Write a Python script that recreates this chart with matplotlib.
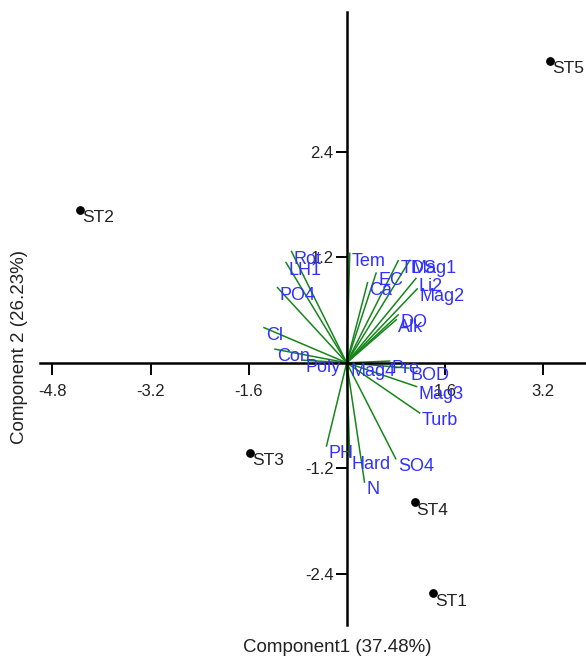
import matplotlib
matplotlib.use("Agg")
import matplotlib.pyplot as plt

# Variable loadings (biplot vectors)
var_names = ["Rot", "LH1", "PO4", "Cl", "Con", "Poly", "Mag4", "Pre", "BOD", "Mag3",
             "Turb", "PH", "Hard", "SO4", "N", "Tem", "TDS", "Mag1", "EC", "Ca",
             "Li2", "Mag2", "DO", "Alk"]
var_x = [-0.90, -0.99, -1.13, -1.35, -1.17, -0.71, 0.02, 0.70, 1.01, 1.14,
         1.19, -0.33, 0.05, 0.80, 0.29, 0.05, 0.84, 1.03, 0.48, 0.34,
         1.13, 1.15, 0.84, 0.81]
var_y = [1.265, 1.14, 0.855, 0.40, 0.155, 0.03, -0.01, 0.02, -0.06, -0.27,
         -0.57, -0.945, -1.07, -1.09, -1.355, 1.245, 1.16, 1.165, 1.02, 0.91,
         0.96, 0.84, 0.545, 0.49]

# Station scores
st_names = ["ST1", "ST2", "ST3", "ST4", "ST5"]
st_x = [1.406, -4.35, -1.57, 1.107, 3.32]
st_y = [-2.62, 1.74, -1.02, -1.58, 3.435]

xticks = [-4.8, -3.2, -1.6, 1.6, 3.2]
yticks = [-2.4, -1.2, 1.2, 2.4]
xlabel = "Component1 (37.48%)"
ylabel = "Component 2 (26.23%)"

plt.rcParams['font.family'] = ['Liberation Sans', 'DejaVu Sans']

fig = plt.figure(figsize=(5.86, 6.62), dpi=100)
ax = fig.add_axes([0, 0, 1, 1])
ax.set_xlim(-5.656, 3.904)
ax.set_ylim(-3.40, 4.123)

green = "#16861a"
blue = "#3030ff"

for n, x, y in zip(var_names, var_x, var_y):
    ax.plot([0, x], [0, y], color=green, lw=1.1, zorder=2)
    ax.annotate(n, (x, y), xytext=(1.5, 0.5), textcoords="offset points",
                ha="left", va="top", color=blue, fontsize=13, zorder=4)

ax.scatter(st_x, st_y, s=28, color="black", zorder=5)
for n, x, y in zip(st_names, st_x, st_y):
    ax.annotate(n, (x, y), xytext=(1.5, -0.5), textcoords="offset points",
                ha="left", va="top", color="#222222", fontsize=12.5, zorder=5)

for s in ["top", "right"]:
    ax.spines[s].set_visible(False)
ax.spines["left"].set_position(("data", 0))
ax.spines["bottom"].set_position(("data", 0))
ax.spines["left"].set_bounds(-2.98, 3.99)
ax.spines["bottom"].set_bounds(-5.0, 3.904)
for s in ["left", "bottom"]:
    ax.spines[s].set_linewidth(1.8)
    ax.spines[s].set_zorder(3)

ax.set_xticks(xticks)
ax.set_xticklabels([f"{t:.1f}" for t in xticks])
ax.set_yticks(yticks)
ax.set_yticklabels([f"{t:.1f}" for t in yticks])
ax.tick_params(axis="x", direction="out", length=8.5, width=1.4, pad=7, labelsize=12, labelcolor="#222222")
ax.tick_params(axis="y", direction="out", length=8.0, width=1.4, pad=1.5, labelsize=12, labelcolor="#222222")

fig.text(337 / 586, 1 - 648 / 662, xlabel, ha="center", va="center", fontsize=13.5, color="#222222")
fig.text(20 / 586, 1 - 347 / 662, ylabel, ha="center", va="center", rotation=90, fontsize=13.5, color="#222222")

fig.savefig("out.png", dpi=100)
